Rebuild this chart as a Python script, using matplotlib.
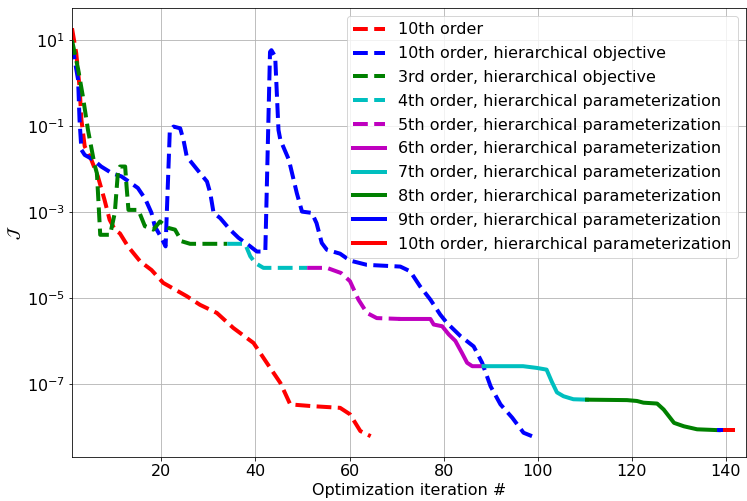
import numpy as np
import matplotlib
matplotlib.use("Agg")
from matplotlib import pyplot as plt

# objective history (log10 J) per run, read against iteration number
it_full = [1, 1.9, 2.6, 3, 3.7, 5.1, 6.5, 7.9, 9, 10.1, 11.2, 12.9, 15.5, 17.9, 20.4,
           25.4, 28.2, 31.8, 35.3, 39.6, 42.4, 45.3, 47.4, 52, 58, 60.1, 62.3, 64.5]
lj_full = [1.28, 0.7, -0.08, -0.85, -1.47, -1.78, -2.17, -2.71, -3.18, -3.41, -3.5, -3.8,
           -4.15, -4.35, -4.65, -4.96, -5.16, -5.35, -5.7, -6.05, -6.51, -6.98, -7.48,
           -7.52, -7.56, -7.71, -8.1, -8.22]

it_hobj = [1, 2.3, 2.6, 3, 3.7, 5.5, 7.2, 9.4, 11.5, 13.6, 15, 16.6, 17.9, 18.6, 20, 20.9,
           21.8, 22.6, 24, 24.7, 25.4, 28.2, 29.7, 30.4, 31.1, 32.5, 34.6, 36.4, 38.9, 40.3,
           42.1, 43.1, 43.4, 44.2, 44.9, 45.3, 47.1, 48.8, 49.9, 52, 53, 54.1, 55.2, 58, 60.1,
           63.7, 70.8, 72.9, 75, 77.2, 79.3, 80.7, 83.6, 86.4, 88.2, 90, 92.1, 94.6, 97, 98.8]
lj_hobj = [0.9, 0.08, -0.85, -1.55, -1.67, -1.78, -1.94, -2.09, -2.17, -2.33, -2.44, -2.7,
           -3.02, -3.33, -3.6, -3.8, -1.09, -1.01, -1.05, -1.32, -1.71, -2.09, -2.29, -2.56,
           -3.02, -3.14, -3.41, -3.6, -3.8, -3.92, -3.92, 0.73, 0.77, 0.62, -1.09, -1.32,
           -1.78, -2.56, -2.99, -3.02, -3.26, -3.72, -3.88, -3.97, -4.13, -4.23, -4.27, -4.38,
           -4.73, -5.04, -5.39, -5.58, -5.89, -6.13, -6.51, -7.06, -7.48, -7.79, -8.14, -8.22]

it_3rd = [1, 2.3, 3.3, 4.4, 5.8, 6.3, 6.6, 7, 9.1, 10.1, 10.8, 11.2, 12.3, 12.6, 13, 15.1,
          16.5, 18.3, 19.7, 21.5, 22.9, 24.3, 26.1, 34]
lj_3rd = [1.0, 0.33, -0.3, -1.09, -1.9, -2.1, -2.71, -3.53, -3.53, -3.02, -2.02, -1.94,
          -1.94, -2.4, -2.95, -2.95, -3.33, -3.41, -3.22, -3.37, -3.41, -3.68, -3.74, -3.74]

it_4th = [34, 37.8, 38.9, 40, 41.7, 51]
lj_4th = [-3.74, -3.74, -4.03, -4.19, -4.3, -4.3]

it_5th = [51, 55.2, 58.2, 60.1, 61.9, 63.7, 65.8, 70.8]
lj_5th = [-4.3, -4.3, -4.42, -4.61, -5.04, -5.35, -5.47, -5.49]

it_6th = [70.8, 77.2, 77.9, 79.7, 81.1, 82.5, 83.9, 85, 86.1, 88.5]
lj_6th = [-5.49, -5.49, -5.62, -5.66, -5.85, -6.0, -6.28, -6.51, -6.59, -6.59]

it_7th = [88.5, 96.9, 99.8, 101.9, 103, 104.1, 105.5, 107.6, 110.5]
lj_7th = [-6.59, -6.59, -6.63, -6.67, -6.95, -7.2, -7.29, -7.36, -7.37]

it_8th = [110.5, 119, 121.1, 122.5, 125.4, 126.8, 129, 131.1, 133.9, 138.5]
lj_8th = [-7.37, -7.38, -7.40, -7.44, -7.46, -7.6, -7.91, -7.99, -8.06, -8.08]

it_9th = [138.5, 139.8]
lj_9th = [-8.08, -8.08]

it_10th = [139.8, 141.6]
lj_10th = [-8.08, -8.08]

runs = [
    (it_full, lj_full, 'r--', '10th order'),
    (it_hobj, lj_hobj, 'b--', '10th order, hierarchical objective'),
    (it_3rd, lj_3rd, 'g--', '3rd order, hierarchical objective'),
    (it_4th, lj_4th, 'c--', '4th order, hierarchical parameterization'),
    (it_5th, lj_5th, 'm--', '5th order, hierarchical parameterization'),
    (it_6th, lj_6th, 'm-', '6th order, hierarchical parameterization'),
    (it_7th, lj_7th, 'c-', '7th order, hierarchical parameterization'),
    (it_8th, lj_8th, 'g-', '8th order, hierarchical parameterization'),
    (it_9th, lj_9th, 'b-', '9th order, hierarchical parameterization'),
    (it_10th, lj_10th, 'r-', '10th order, hierarchical parameterization'),
]

plt.rcParams['font.size'] = 16
fig = plt.figure(figsize=(747 / 72, 501 / 72), dpi=72)
ax = fig.add_axes([72 / 747, 1 - 457 / 501, 674 / 747, 449 / 501])

for it, lj, fmt, name in runs:
    ax.semilogy(it, 10 ** np.array(lj), fmt, lw=4, label=name)

ax.set_xlim(1, 144.3)
ax.set_ylim(10 ** -8.705, 10 ** 1.752)
ax.set_xticks([20, 40, 60, 80, 100, 120, 140])
ax.set_yticks([1e1, 1e-1, 1e-3, 1e-5, 1e-7])
ax.minorticks_off()
ax.grid(True)
ax.set_xlabel('Optimization iteration #')
ax.set_ylabel(r'$\mathcal{J}$')
ax.legend(loc='upper right', fontsize=16, labelspacing=0.55)

plt.savefig('out.png', dpi=72)
